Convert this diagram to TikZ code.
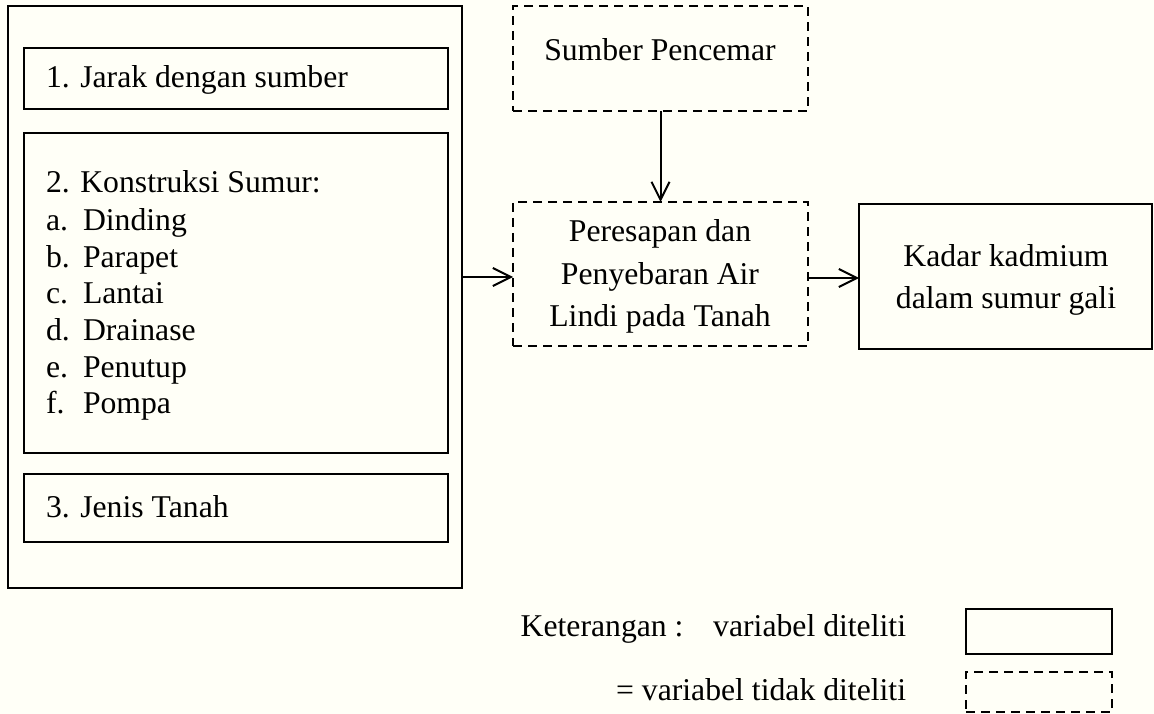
\documentclass[tikz,border=0pt]{standalone}
\usepackage{fontspec}
\setmainfont{Liberation Serif}
\usetikzlibrary{arrows.meta}
\definecolor{bgcream}{RGB}{255,255,247}
\begin{document}
\begin{tikzpicture}[x=1pt,y=-1pt,
  every node/.style={font=\fontsize{31.7}{36.7}\selectfont, inner sep=0pt, outer sep=0pt},
  solidbox/.style={draw=black, line width=2.5pt, rectangle, minimum width=#1},
  dashbox/.style={draw=black, line width=2.5pt, rectangle, dash pattern=on 9pt off 6pt, minimum width=#1},
  arr/.style={line width=2pt, -{Straight Barb[length=18pt,width=18pt,line width=2pt]}},
  txt/.style={anchor=base west},
  ctxt/.style={anchor=base}
]
\useasboundingbox (0,0) rectangle (1154,714);
\fill[bgcream] (0,0) rectangle (1154,714);

% left group
\node[solidbox=454, minimum height=582] (outer) at (235,297) {};
\node[solidbox=424, minimum height=61] (b1) at (236,78.5) {};
\node[solidbox=424, minimum height=320] (b2) at (236,293) {};
\node[solidbox=424, minimum height=68] (b3) at (236,508) {};

\node[txt] (t1) at (46,88) {1. Jarak dengan sumber};
\node[txt] (t2) at (46,193) {2. Konstruksi Sumur:};
\foreach \l/\w/\y [count=\i] in {a./Dinding/230, b./Parapet/267, c./Lantai/303.5, d./Drainase/340, e./Penutup/377, f./Pompa/413}{
  \node[txt] (l\i) at (46,\y) {\l};
  \node[txt] (w\i) at (83,\y) {\w};
}
\node[txt] (t3) at (46,517) {3. Jenis Tanah};

% right group
\node[dashbox=295, minimum height=105] (sumber) at (660.5,58.5) {};
\node[ctxt] (sumbert) at (660,61) {Sumber Pencemar};

\node[dashbox=295, minimum height=144] (peres) at (660.5,274) {};
\node[ctxt] (p1) at (660,242) {Peresapan dan};
\node[ctxt] (p2) at (660,284) {Penyebaran Air};
\node[ctxt] (p3) at (660,326) {Lindi pada Tanah};

\node[solidbox=293, minimum height=145] (kadar) at (1005.5,276.5) {};
\node[ctxt] (k1) at (1006,266) {Kadar kadmium};
\node[ctxt] (k2) at (1006,308) {dalam sumur gali};

% connectors
\draw[arr] (sumber.south) -- (peres.north);
\draw[arr] (outer.east |- peres.west) ++(0,3) coordinate (oa) (oa) -- (oa -| peres.west);
\draw[arr] (peres.east) ++(0,4) coordinate (pa) (pa) -- (pa -| kadar.west);

% legend
\node[txt] (ket) at (520.7,636) {Keterangan :};
\node[anchor=base east] (lg1) at (906,636) {variabel diteliti};
\node[anchor=base east] (lg2) at (906,700) {= variabel tidak diteliti};
\node[solidbox=146, minimum height=45] (lbox1) at (1039,631.5) {};
\node[dashbox=146, minimum height=40] (lbox2) at (1039,692) {};
\end{tikzpicture}
\end{document}
